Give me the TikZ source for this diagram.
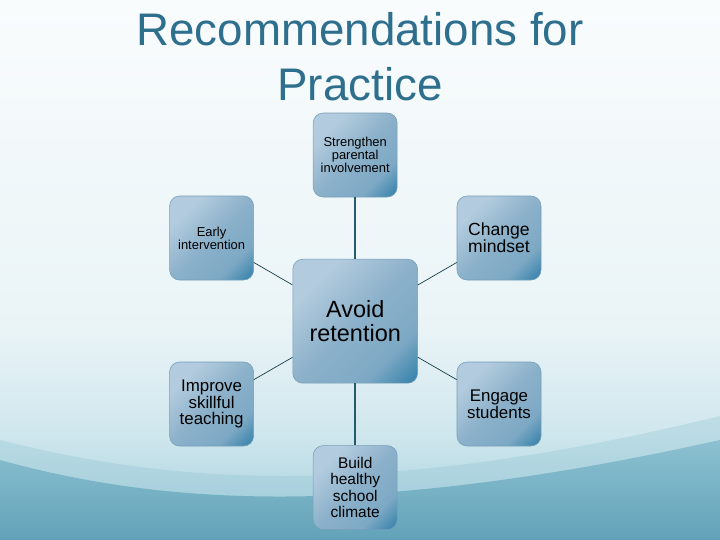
\documentclass[tikz,border=0pt]{standalone}
\usepackage{fontspec}
\setmainfont{Liberation Sans}

\definecolor{titleblue}{RGB}{46,111,142}
\definecolor{boxlight}{RGB}{178,203,222}
\definecolor{boxmid}{RGB}{140,177,202}
\definecolor{boxdark}{RGB}{40,122,165}
\definecolor{boxedge}{RGB}{118,158,184}
\definecolor{spokedark}{RGB}{36,90,106}
\definecolor{bgtop}{RGB}{249,252,253}
\definecolor{bgmid}{RGB}{234,244,247}
\definecolor{bglow}{RGB}{208,231,238}
\definecolor{bgbot}{RGB}{160,205,218}
\definecolor{waveteal}{RGB}{98,162,184}
\definecolor{wavelight}{RGB}{140,193,209}

\pgfdeclarehorizontalshading{boxshade}{100bp}{color(0bp)=(boxlight); color(28bp)=(boxlight); color(50bp)=(boxmid); color(70bp)=(boxmid!85!boxdark); color(80bp)=(boxdark!65!boxmid); color(88bp)=(boxdark); color(100bp)=(boxdark)}
\pgfdeclareverticalshading{bgshade}{100bp}{color(0bp)=(bgbot); color(25bp)=(bgbot); color(35bp)=(bglow); color(45bp)=(bgmid); color(75bp)=(bgtop); color(100bp)=(bgtop)}

\tikzset{idea/.style={draw=boxedge, line width=0.4pt, rounded corners=0.25cm, shading=boxshade, shading angle=-45, minimum width=2.1cm, minimum height=2.1cm, align=center, inner sep=1pt, text=black}}
\tikzset{hub/.style={idea, minimum width=3.12cm, minimum height=3.1cm, font=\fontsize{16.7}{17}\selectfont}}
\tikzset{spoke/.style={draw=spokedark, line width=1.3pt}}
\tikzset{link/.style={draw=spokedark!70!black, line width=0.5pt}}
\tikzset{headline/.style={anchor=base, align=center, text=titleblue, font=\fontsize{32.5}{39}\selectfont}}

\begin{document}
\begin{tikzpicture}
    \newcommand\posL{5.29}
    \newcommand\posM{8.88}
    \newcommand\posR{12.475}

    \useasboundingbox (0, 0) rectangle (18, -13.5);
    \shade[shading=bgshade] (0, 0) rectangle (18, -13.5);
    \fill[wavelight, opacity=0.3] (0, -11.0) .. controls (4, -12.0) and (9, -12.6) .. (18, -10.4) -- (18, -13.5) -- (0, -13.5) -- cycle;
    \shade[top color=wavelight, bottom color=waveteal] (0, -11.5) .. controls (4, -12.6) and (9, -13.0) .. (18, -11.0) -- (18, -13.5) -- (0, -13.5) -- cycle;

    \node[headline] (title) at (9, -2.5){Recommendations for\\Practice};

    \node[hub] (avoid) at (\posM, -8.03){Avoid\\retention};
    \node[idea, font=\fontsize{9.2}{9.4}\selectfont] (parent) at (\posM, -3.875){Strengthen\\parental\\involvement};
    \node[idea, font=\fontsize{9.2}{9.4}\selectfont] (early) at (\posL, -5.95){Early\\intervention};
    \node[idea, font=\fontsize{12.5}{12.2}\selectfont] (mind) at (\posR, -5.95){Change\\mindset};
    \node[idea, font=\fontsize{12}{12}\selectfont] (teach) at (\posL, -10.1){Improve\\skillful\\teaching};
    \node[idea, font=\fontsize{12}{12}\selectfont] (engage) at (\posR, -10.1){Engage\\students};
    \node[idea, font=\fontsize{11}{11.7}\selectfont] (climate) at (\posM, -12.19){Build\\healthy\\school\\climate};

    \draw[spoke] (parent) -- (avoid);
    \draw[spoke] (climate) -- (avoid);
    \draw[link] (early) -- (avoid);
    \draw[link] (mind) -- (avoid);
    \draw[link] (teach) -- (avoid);
    \draw[link] (engage) -- (avoid);
\end{tikzpicture}
\end{document}
